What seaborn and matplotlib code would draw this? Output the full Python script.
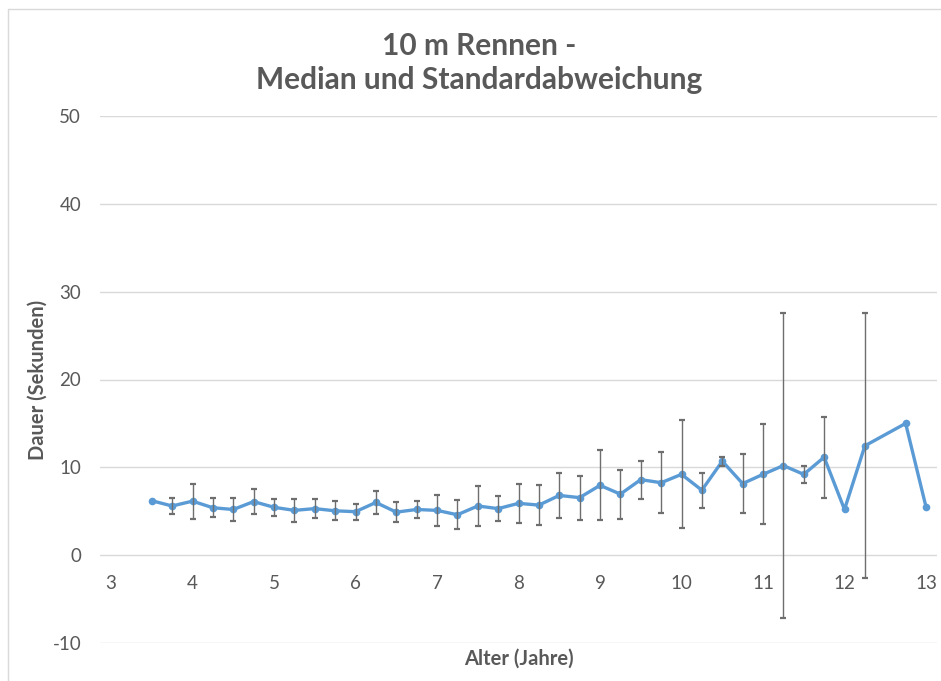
import numpy as np
import pandas as pd
import matplotlib
matplotlib.use("Agg")
import matplotlib.pyplot as plt
from matplotlib.lines import Line2D
import seaborn as sns

# Age groups (years) and the median 10 m run time with its standard deviation
alter = [3.5, 3.75, 4.0, 4.25, 4.5, 4.75, 5.0, 5.25, 5.5, 5.75, 6.0, 6.25, 6.5,
         6.75, 7.0, 7.25, 7.5, 7.75, 8.0, 8.25, 8.5, 8.75, 9.0, 9.25, 9.5, 9.75,
         10.0, 10.25, 10.5, 10.75, 11.0, 11.25, 11.5, 11.75, 12.0, 12.25, 12.75, 13.0]
median = [6.2, 5.6, 6.15, 5.4, 5.2, 6.1, 5.45, 5.1, 5.3, 5.05, 4.95, 6.0, 4.9,
          5.2, 5.1, 4.6, 5.6, 5.3, 5.9, 5.7, 6.8, 6.55, 7.95, 6.95, 8.6, 8.25,
          9.2, 7.4, 10.7, 8.15, 9.2, 10.2, 9.2, 11.15, 5.2, 12.45, 15.0, 5.5]
std_abw = [np.nan, 0.9, 2.0, 1.1, 1.35, 1.45, 1.0, 1.3, 1.05, 1.1, 0.9, 1.35, 1.1,
           1.0, 1.75, 1.65, 2.25, 1.4, 2.2, 2.25, 2.6, 2.5, 4.0, 2.8, 2.15, 3.45,
           6.15, 2.0, 0.5, 3.35, 5.7, 17.4, 0.95, 4.6, np.nan, 15.1, np.nan, np.nan]

x_ticks = [3, 4, 5, 6, 7, 8, 9, 10, 11, 12, 13]
y_ticks = [-10, 0, 10, 20, 30, 40, 50]

df = pd.DataFrame({"Alter": alter, "Median": median, "SD": std_abw})

sns.set_theme(style="white")
plt.rcParams["font.family"] = ["Lato", "DejaVu Sans"]

TEXT = "#595959"
LINE = "#5B9BD5"
GRID = "#D9D9D9"

W, H = 941, 681
fig = plt.figure(figsize=(W / 100, H / 100), dpi=100)
ax = fig.add_axes([100 / W, (H - 643) / H, (937 - 100) / W, (643 - 116) / H])

# grid
for y in y_ticks:
    ax.axhline(y, color=GRID, linewidth=1.0, zorder=0)

sns.lineplot(data=df, x="Alter", y="Median", ax=ax, color=LINE, linewidth=2.4,
             marker="o", markersize=5.5, markeredgewidth=0, zorder=3)

ax.errorbar(df["Alter"], df["Median"], yerr=df["SD"], fmt="none",
            ecolor="#6E6E6E", elinewidth=1.0, capsize=2.3, capthick=1.6, zorder=4)

ax.set_xlim(3 - 11 / 81.5, 13 + 11 / 81.5)
ax.set_ylim(-10, 50)
ax.set_xticks(x_ticks)
ax.set_yticks(y_ticks)
ax.set_xticklabels([str(v) for v in x_ticks])
ax.set_yticklabels([str(v) for v in y_ticks])

for s in ax.spines.values():
    s.set_visible(False)
ax.spines["bottom"].set_position(("data", 0))
ax.tick_params(axis="x", length=0, pad=14.5, labelsize=13.5, labelcolor=TEXT)
ax.tick_params(axis="y", length=0, pad=13.5, labelsize=13.5, labelcolor=TEXT)

ax.set_xlabel("")
ax.set_ylabel("")
ax.grid(False)

fig.text(519 / W, 1 - 659 / H, "Alter (Jahre)", ha="center", va="center",
         fontsize=14.5, fontweight="bold", color=TEXT)
fig.text(38 / W, 1 - 380 / H, "Dauer (Sekunden)", ha="center", va="center",
         rotation=90, fontsize=14.5, fontweight="bold", color=TEXT)

fig.text(479 / W, 1 - 63 / H, "10 m Rennen -\nMedian und Standardabweichung",
         ha="center", va="center", fontsize=21.5, fontweight="bold", color=TEXT,
         linespacing=1.3)

# chart frame
fig.add_artist(Line2D([8 / W, 1], [1 - 9 / H, 1 - 9 / H], transform=fig.transFigure,
                      color=GRID, linewidth=1.0))
fig.add_artist(Line2D([8 / W, 8 / W], [0, 1 - 9 / H], transform=fig.transFigure,
                      color=GRID, linewidth=1.0))

fig.savefig("out.png", dpi=100, facecolor="white")
